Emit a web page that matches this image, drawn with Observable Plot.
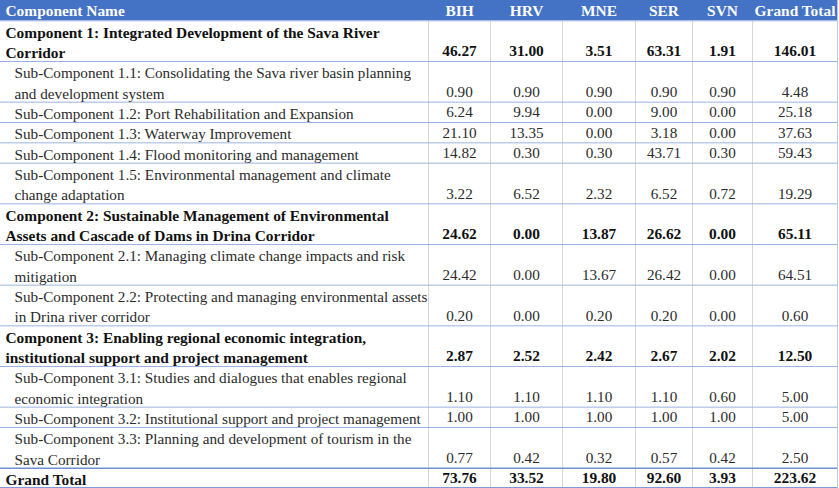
<!DOCTYPE html>
<html>
<head>
<meta charset="utf-8">
<script src="https://cdn.jsdelivr.net/npm/d3@7"></script>
<script src="https://cdn.jsdelivr.net/npm/@observablehq/plot@0.6"></script>
<style>
  html, body { margin: 0; padding: 0; background: #fff; }
  #chart svg { display: block; }
</style>
</head>
<body>
<div id="chart"></div>
<script>
// ---- data ----
const headers = ["Component Name", "BIH", "HRV", "MNE", "SER", "SVN", "Grand Total"];
const names = [
  "Component 1: Integrated Development of the Sava River\nCorridor",
  "Sub-Component 1.1: Consolidating the Sava river basin planning\nand development system",
  "Sub-Component 1.2: Port Rehabilitation and Expansion",
  "Sub-Component 1.3: Waterway Improvement",
  "Sub-Component 1.4: Flood monitoring and management",
  "Sub-Component 1.5: Environmental management and climate\nchange adaptation",
  "Component 2: Sustainable Management of Environmental\nAssets and Cascade of Dams in Drina Corridor",
  "Sub-Component 2.1: Managing climate change impacts and risk\nmitigation",
  "Sub-Component 2.2: Protecting and managing environmental assets\nin Drina river corridor",
  "Component 3: Enabling regional economic integration,\ninstitutional support and project management",
  "Sub-Component 3.1: Studies and dialogues that enables regional\neconomic integration",
  "Sub-Component 3.2: Institutional support and project management",
  "Sub-Component 3.3: Planning and development of tourism in the\nSava Corridor",
  "Grand Total"
];
const kinds = ["component","sub","sub","sub","sub","sub","component","sub","sub","component","sub","sub","sub","total"];
const BIH = [46.27, 0.90, 6.24, 21.10, 14.82, 3.22, 24.62, 24.42, 0.20, 2.87, 1.10, 1.00, 0.77, 73.76];
const HRV = [31.00, 0.90, 9.94, 13.35, 0.30, 6.52, 0.00, 0.00, 0.00, 2.52, 1.10, 1.00, 0.42, 33.52];
const MNE = [3.51, 0.90, 0.00, 0.00, 0.30, 2.32, 13.87, 13.67, 0.20, 2.42, 1.10, 1.00, 0.32, 19.80];
const SER = [63.31, 0.90, 9.00, 3.18, 43.71, 6.52, 26.62, 26.42, 0.20, 2.67, 1.10, 1.00, 0.57, 92.60];
const SVN = [1.91, 0.90, 0.00, 0.00, 0.30, 0.72, 0.00, 0.00, 0.00, 2.02, 0.60, 1.00, 0.42, 3.93];
const TOTAL = [146.01, 4.48, 25.18, 37.63, 59.43, 19.29, 65.11, 64.51, 0.60, 12.50, 5.00, 5.00, 2.50, 223.62];

// ---- layout (not data) ----
const W = 839, H = 488;
const colEdges = [0, 428, 490, 562, 635, 692, 752, 837];
const fmt = d3.format(".2f");
const FS = 15.2, FSB = 15.4;

let line = 1;
const rows = names.map((name, i) => {
  const n = name.split("\n").length;
  const r = {i, name, kind: kinds[i], start: line, n,
    vals: [BIH[i], HRV[i], MNE[i], SER[i], SVN[i], TOTAL[i]]};
  line += n;
  return r;
});
const totalLines = line;

const cells = rows.flatMap(r => r.vals.map((v, j) => ({
  kind: r.kind, x: (colEdges[j + 1] + colEdges[j + 2]) / 2, y: r.start + r.n - 0.5, label: fmt(v)
})));
const headerCells = headers.map((h, j) => ({
  label: h, x: j === 0 ? colEdges[0] + 5 : (colEdges[j] + colEdges[j + 1]) / 2, j
}));
const hLines = rows.map(r => ({y: r.start, kind: r.kind}));
const vLines = colEdges.slice(1);

const lineH = H / totalLines;
const bold = r => r.kind !== "sub";

const plot = Plot.plot({
  width: W, height: H, margin: 0,
  x: {type: "linear", domain: [0, W], range: [0, W], axis: null},
  y: {type: "linear", domain: [0, totalLines], range: [0, H], axis: null},
  style: {fontFamily: "'Liberation Serif', 'Times New Roman', serif", fontSize: FS + "px", background: "#fff"},
  marks: [
    Plot.rect([0], {x1: 0, x2: colEdges[colEdges.length - 1], y1: 0, y2: 1, fill: "#4472c4"}),
    Plot.ruleX(vLines.slice(0, -1), {x: d => d, y1: 1, y2: totalLines - 0.05, stroke: "#d6d6d6", strokeWidth: 1}),
    Plot.ruleX([vLines[vLines.length - 1]], {x: d => d, y1: 0, y2: totalLines, stroke: "#b9c9e8", strokeWidth: 1}),
    Plot.ruleY(hLines.filter(d => d.kind !== "total"), {y: "y", x1: 0, x2: 837, stroke: "#9bb3e0", strokeWidth: 1}),
    Plot.ruleY(hLines.filter(d => d.kind === "total"), {y: "y", x1: 0, x2: 837, stroke: "#6f8fd0", strokeWidth: 1.5}),
    Plot.ruleY([totalLines], {y: d => d, x1: 0, x2: 837, stroke: "#7f9ad4", strokeWidth: 3}),
    Plot.text(headerCells.filter(d => d.j === 0), {x: "x", y: 0.5, text: "label", textAnchor: "start",
      fill: "#fff", fontWeight: "bold", fontSize: FSB}),
    Plot.text(headerCells.filter(d => d.j > 0), {x: "x", y: 0.5, text: "label", textAnchor: "middle",
      fill: "#fff", fontWeight: "bold", fontSize: FSB}),
    Plot.text(rows.filter(bold), {x: 5, y: r => r.start + r.n / 2, text: "name", textAnchor: "start",
      lineAnchor: "middle", lineHeight: lineH / FSB, fill: "#111", fontWeight: "bold", fontSize: FSB}),
    Plot.text(rows.filter(r => !bold(r)), {x: 14, y: r => r.start + r.n / 2, text: "name", textAnchor: "start",
      lineAnchor: "middle", lineHeight: lineH / FS, fill: "#2b2b2b", fontSize: FS}),
    Plot.text(cells.filter(c => c.kind !== "sub"), {x: "x", y: "y", text: "label", fill: "#111", fontWeight: "bold", fontSize: FSB}),
    Plot.text(cells.filter(c => c.kind === "sub"), {x: "x", y: "y", text: "label", fill: "#2b2b2b", fontSize: FS})
  ]
});
document.getElementById("chart").append(plot);
</script>
</body>
</html>
